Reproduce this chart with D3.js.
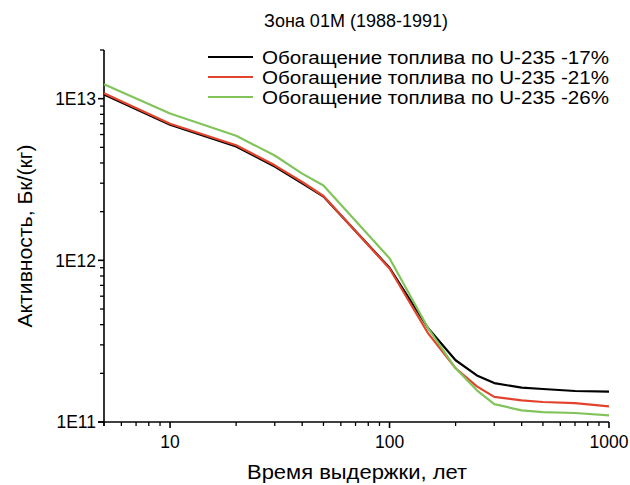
<!DOCTYPE html>
<html>
<head>
<meta charset="utf-8">
<script src="https://cdn.jsdelivr.net/npm/d3@7"></script>
<style>
  html, body { margin: 0; padding: 0; background: #fff; }
  svg { display: block; font-family: "Liberation Sans", Arial, sans-serif; }
</style>
</head>
<body>
<svg id="chart" width="630" height="485"></svg>
<script>
// Storage time, years
const years = [5, 10, 20, 30, 40, 50, 100, 150, 200, 250, 300, 400, 500, 700, 1000];

// Specific activity, Bq/kg, for three fuel enrichment levels
const enrich17 = [1.06e13, 6.9e12, 5.06e12, 3.8e12, 3.0e12, 2.48e12, 9.0e11, 3.8e11, 2.41e11, 1.94e11, 1.74e11, 1.63e11, 1.60e11, 1.555e11, 1.54e11];
const enrich21 = [1.08e13, 7.0e12, 5.15e12, 3.87e12, 3.05e12, 2.5e12, 8.9e11, 3.53e11, 2.15e11, 1.66e11, 1.43e11, 1.36e11, 1.33e11, 1.31e11, 1.25e11];
const enrich26 = [1.23e13, 8.1e12, 5.9e12, 4.45e12, 3.44e12, 2.9e12, 1.03e12, 3.8e11, 2.15e11, 1.57e11, 1.29e11, 1.18e11, 1.15e11, 1.137e11, 1.10e11];

const seriesNames = [
  "Обогащение топлива по U-235 -17%",
  "Обогащение топлива по U-235 -21%",
  "Обогащение топлива по U-235 -26%"
];
const seriesColors = ["#000000", "#e2432c", "#82c45c"];

const xTickValues = [10, 100, 1000];
const yTickValues = [1e11, 1e12, 1e13];
const yTickLabels = ["1E11", "1E12", "1E13"];

const titleText = "Зона 01М (1988-1991)";
const xTitle = "Время выдержки, лет";
const yTitle = "Активность, Бк/(кг)";

const svg = d3.select("#chart");
const plotL = 104, plotR = 609, plotT = 50, plotB = 422;

const x = d3.scaleLog().domain([5, 1000]).range([plotL, plotR]);
const y = d3.scaleLog().domain([1e11, 2e13]).range([plotB, plotT]);

// minor ticks
const xMinor = [];
for (let d = 1; d <= 100; d *= 10) for (let k = 2; k <= 9; k++) {
  const v = k * d; if (v >= 5 && v <= 1000) xMinor.push(v);
}
const yMinor = [];
for (let d = 1e11; d <= 1e13; d *= 10) for (let k = 2; k <= 9; k++) {
  const v = k * d; if (v <= 2e13) yMinor.push(v);
}

const axes = svg.append("g").attr("stroke", "#000").attr("stroke-width", 1.6);
// x axis
axes.append("line").attr("x1", plotL - 6).attr("x2", plotR).attr("y1", plotB).attr("y2", plotB);
axes.selectAll(".xmaj").data(xTickValues).enter().append("line")
  .attr("x1", d => x(d)).attr("x2", d => x(d)).attr("y1", plotB).attr("y2", plotB + 6);
axes.selectAll(".xmin").data(xMinor).enter().append("line")
  .attr("stroke-width", 1.3)
  .attr("x1", d => x(d)).attr("x2", d => x(d)).attr("y1", plotB).attr("y2", plotB + 4);
axes.append("line").attr("x1", plotL).attr("x2", plotL).attr("y1", plotB + 4).attr("y2", plotB);
// y axis
axes.append("line").attr("x1", plotL).attr("x2", plotL).attr("y1", plotT).attr("y2", plotB);
axes.selectAll(".ymaj").data(yTickValues).enter().append("line")
  .attr("x1", plotL - 6).attr("x2", plotL).attr("y1", d => y(d)).attr("y2", d => y(d));
axes.selectAll(".ymin").data(yMinor).enter().append("line")
  .attr("stroke-width", 1.3)
  .attr("x1", plotL - 4).attr("x2", plotL).attr("y1", d => y(d)).attr("y2", d => y(d));

// tick labels
svg.selectAll(".xl").data(xTickValues).enter().append("text")
  .attr("x", d => x(d)).attr("y", plotB + 26)
  .attr("text-anchor", "middle").attr("font-size", 17.5).text(d => d);
svg.selectAll(".yl").data(yTickValues).enter().append("text")
  .attr("x", plotL - 8).attr("y", d => y(d) + 6.3)
  .attr("text-anchor", "end").attr("font-size", 17.5).text((d, i) => yTickLabels[i]);

// titles
svg.append("text").attr("x", 356).attr("y", 27).attr("text-anchor", "middle")
  .attr("font-size", 18).text(titleText);
svg.append("text").attr("x", 357).attr("y", 479).attr("text-anchor", "middle")
  .attr("font-size", 19.5).attr("textLength", 220).attr("lengthAdjust", "spacingAndGlyphs")
  .text(xTitle);
svg.append("text").attr("transform", `translate(32,${(plotT + plotB) / 2}) rotate(-90)`)
  .attr("text-anchor", "middle").attr("font-size", 20)
  .attr("textLength", 183).attr("lengthAdjust", "spacingAndGlyphs").text(yTitle);

// curves
const line = d3.line().x(d => x(d[0])).y(d => y(d[1]));
[enrich17, enrich21, enrich26].forEach((vals, i) => {
  svg.append("path")
    .datum(years.map((t, j) => [t, vals[j]]))
    .attr("fill", "none").attr("stroke", seriesColors[i])
    .attr("stroke-width", 2.2).attr("stroke-linejoin", "round")
    .attr("d", line);
});

// legend
const lg = svg.append("g");
seriesNames.forEach((name, i) => {
  const yy = 57 + i * 20;
  lg.append("line").attr("x1", 208).attr("x2", 253).attr("y1", yy).attr("y2", yy)
    .attr("stroke", seriesColors[i]).attr("stroke-width", 2.2);
  lg.append("text").attr("x", 262).attr("y", yy + 6.5).attr("font-size", 17.5)
    .attr("textLength", 347).attr("lengthAdjust", "spacingAndGlyphs").text(name);
});
</script>
</body>
</html>
